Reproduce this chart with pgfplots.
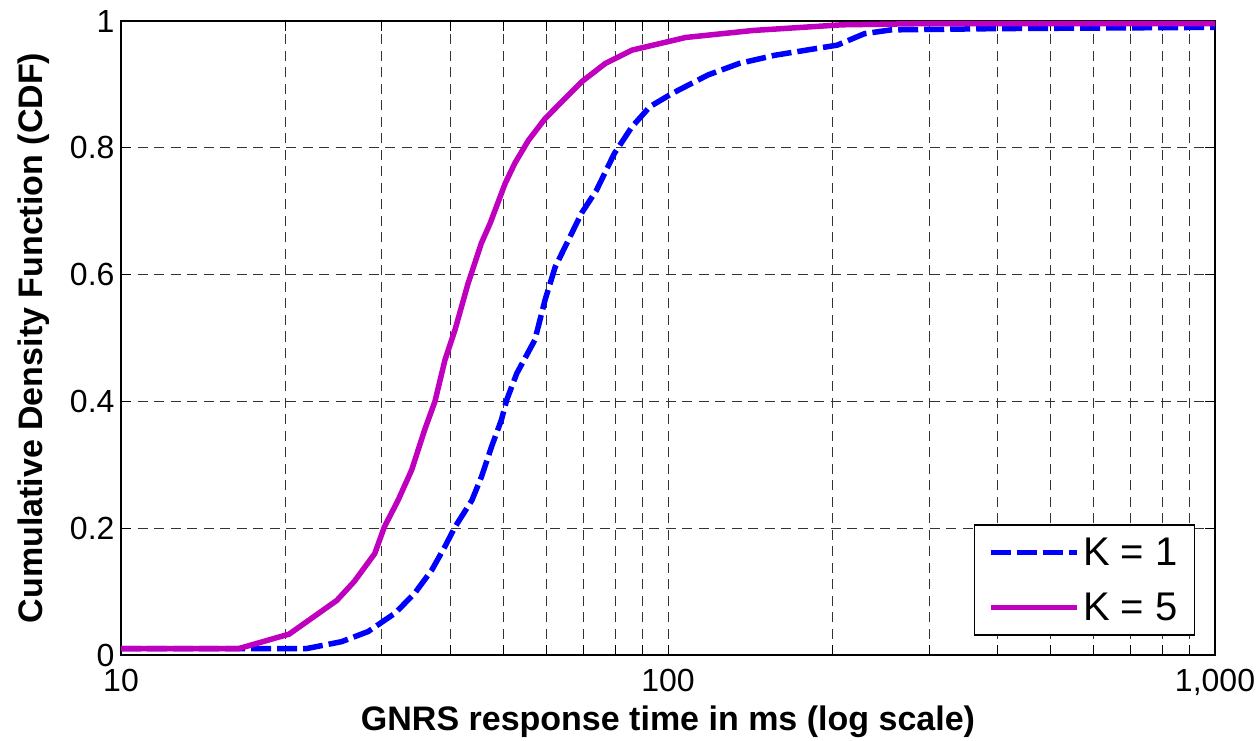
\documentclass[border=0pt]{standalone}
\usepackage{fontspec}
\setmainfont{Liberation Sans}
\usepackage{pgfplots}
\pgfplotsset{compat=1.18}
\definecolor{kblue}{HTML}{0000FF}
\definecolor{kmag}{HTML}{BF00BF}

\pgfplotstableread{
x y
10 0.01
17.3 0.01
21.8 0.01
25.3 0.021
28.3 0.037
31.7 0.066
34.4 0.097
37.0 0.134
39.1 0.171
40.8 0.202
43.8 0.244
45.6 0.281
47.6 0.329
49.6 0.371
50.7 0.402
52.9 0.444
57.1 0.497
59.6 0.56
62.2 0.612
65.8 0.655
69.5 0.697
74.0 0.733
79.8 0.791
85.9 0.833
92.7 0.865
101.9 0.886
118.4 0.915
134.9 0.933
156.9 0.946
204 0.962
228.6 0.98
255.7 0.986
401 0.988
1000 0.99
}\kone

\pgfplotstableread{
x y
10 0.01
16.4 0.01
20.3 0.033
24.8 0.086
26.7 0.116
29.1 0.16
30.3 0.202
32.1 0.244
34.0 0.292
35.9 0.355
37.5 0.40
39.1 0.465
40.8 0.513
43.1 0.586
45.6 0.65
47.3 0.681
50.4 0.744
52.5 0.776
55.6 0.812
59.6 0.846
69.5 0.904
76.8 0.933
85.9 0.954
107.7 0.974
142.8 0.985
208 0.994
300 0.996
1000 0.996
}\kfive

\begin{document}
\begin{tikzpicture}
\path[use as bounding box] (0pt,0pt) rectangle (1259pt,740pt);
\begin{axis}[
  at={(121pt,85pt)}, anchor=south west,
  scale only axis, width=1094pt, height=634pt,
  xmode=log, xmin=10, xmax=1000, ymin=0, ymax=1,
  xtick={10,100,1000}, xticklabels={10,100,{1,000}},
  ytick={0,0.2,0.4,0.6,0.8,1}, yticklabels={0,0.2,0.4,0.6,0.8,1},
  axis line style={black, line width=1.5pt},
  tick align=inside, major tick length=10pt, minor tick length=10pt,
  tick style={black, line width=1pt},
  xtick pos=both, ytick pos=both,
  grid=both,
  major grid style={black!80, line width=1pt, dash pattern=on 10pt off 6.5pt},
  minor grid style={black!80, line width=1pt, dash pattern=on 10pt off 6.5pt},
  tick label style={font=\fontsize{32}{38}\selectfont},
  xticklabel style={yshift=-11pt},
  yticklabel style={xshift=-3pt},
  xlabel={\bfseries GNRS response time in ms (log scale)},
  ylabel={\bfseries Cumulative Density Function (CDF)},
  label style={font=\fontsize{34}{40}\selectfont},
  xlabel style={yshift=-3pt},
  ylabel style={yshift=14pt},
  legend cell align=left,
  legend style={at={(0.982,0.03)}, anchor=south east, draw=black, line width=1.5pt,
    font=\fontsize{40}{48}\selectfont, inner xsep=14pt, inner ysep=10pt, row sep=20pt,
    nodes={inner sep=3pt}},
  legend image code/.code={\draw[#1] (0pt,0pt) -- (86pt,0pt);},
]
\addplot[kblue, line width=5.5pt, dash pattern=on 20pt off 6pt] table[x=x,y=y] {\kone};
\addlegendentry{K = 1}
\addplot[kmag, line width=5.5pt] table[x=x,y=y] {\kfive};
\addlegendentry{K = 5}
\end{axis}
\end{tikzpicture}
\end{document}
